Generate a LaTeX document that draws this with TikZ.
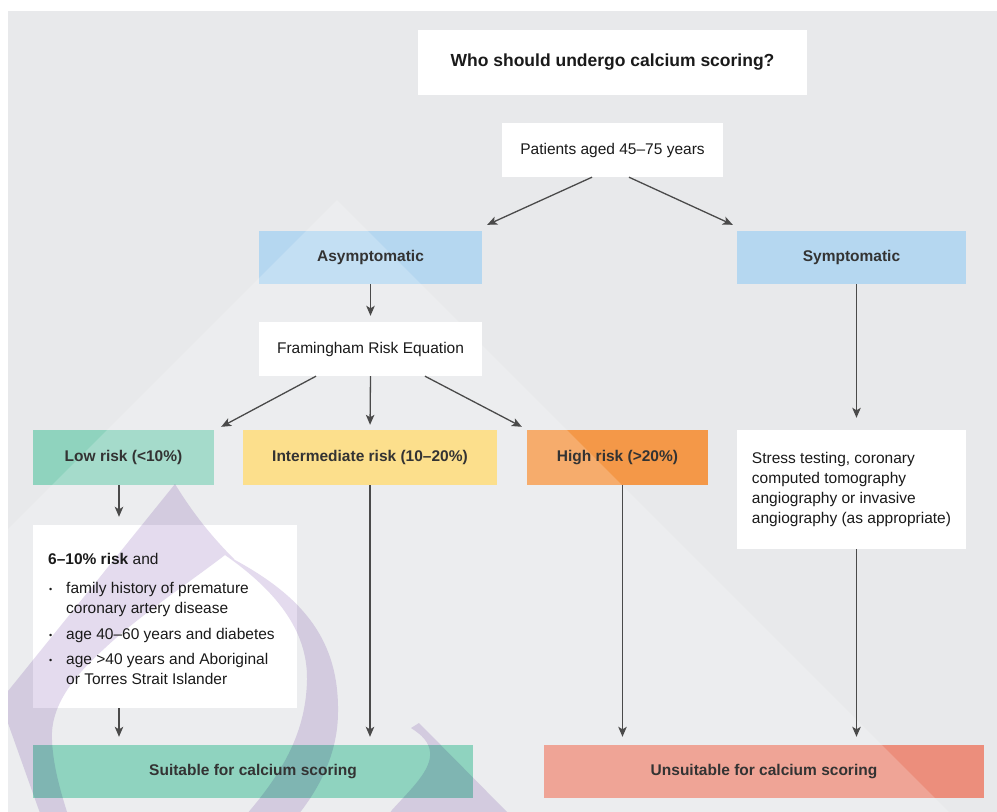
\documentclass[tikz,border=0pt]{standalone}
\usepackage{fontspec}
\setmainfont{Liberation Sans}
\usetikzlibrary{arrows.meta,calc}

\definecolor{bggray}{HTML}{E8E9EB}
\definecolor{skyblue}{HTML}{B5D7F0}
\definecolor{mintlow}{HTML}{8FD3BE}
\definecolor{mintok}{HTML}{73C9B0}
\definecolor{sandyellow}{HTML}{FCD870}
\definecolor{riskorange}{HTML}{F49848}
\definecolor{salmon}{HTML}{EC8E7C}
\definecolor{inkgray}{HTML}{333333}
\definecolor{titleink}{HTML}{1A1A1A}
\definecolor{linegray}{HTML}{4A4A4A}
\definecolor{markpurple}{HTML}{E4DBEE}

\pgfdeclarelayer{back}
\pgfdeclarelayer{mark}
\pgfsetlayers{back,mark,main}

\tikzset{
  box/.style={rectangle, inner sep=0pt, text=inkgray},
  lbl/.style={box, font=\fontsize{15.5}{18}\selectfont\bfseries},
  body/.style={box, text=titleink, font=\fontsize{15.5}{20}\selectfont},
  arr/.style={draw=linegray, line width=1.3pt,
    -{Stealth[length=10pt,width=8.5pt,inset=2.5pt]}},
}

\begin{document}
\begin{tikzpicture}[x=1pt,y=-1pt]
\useasboundingbox (0,0) rectangle (997,812);

% ---- boxes (text only; fills go on the back layer) ----
\node[box, text=titleink, font=\fontsize{17.5}{20}\selectfont\bfseries,
      minimum width=389pt, minimum height=65pt] (title) at (612.5,62.5)
      {Who should undergo calcium scoring?};
\node[body, minimum width=221pt, minimum height=54pt] (patients) at (612.5,150)
      {Patients aged 45–75 years};
\node[lbl, minimum width=223pt, minimum height=53pt] (asym) at (370.5,257.5) {Asymptomatic};
\node[lbl, minimum width=229pt, minimum height=53pt] (sym) at (851.5,257.5) {Symptomatic};
\node[body, minimum width=223pt, minimum height=54pt] (fram) at (370.5,349)
      {Framingham Risk Equation};
\node[lbl, minimum width=181pt, minimum height=55pt] (low) at (123.5,457.5) {Low risk (<10\%)};
\node[lbl, minimum width=254pt, minimum height=55pt] (inter) at (370,457.5)
      {Intermediate risk (10–20\%)};
\node[lbl, minimum width=181pt, minimum height=55pt] (high) at (617.5,457.5) {High risk (>20\%)};
\node[body, align=left, minimum width=229pt, minimum height=119pt] (stress) at (851.5,489.5)
      {Stress testing, coronary\\computed tomography\\angiography or invasive\\angiography (as appropriate)};
\node[box, minimum width=264pt, minimum height=183pt] (crit) at (165,616.5) {};
\node[body, anchor=north west] (critlist) at (48,550)
  {\renewcommand{\arraystretch}{1}%
   \begin{tabular}[t]{@{}l@{}l@{}}
   \multicolumn{2}{@{}l@{}}{\textbf{6–10\% risk} and}\\[9.5pt]
   \makebox[18pt][l]{\hspace{1pt}\raisebox{1pt}{\fontsize{9}{9}\selectfont •}} & family history of premature\\
   & coronary artery disease\\[5.5pt]
   \makebox[18pt][l]{\hspace{1pt}\raisebox{1pt}{\fontsize{9}{9}\selectfont •}} & age 40–60 years and diabetes\\[5.5pt]
   \makebox[18pt][l]{\hspace{1pt}\raisebox{1pt}{\fontsize{9}{9}\selectfont •}} & age >40 years and Aboriginal\\
   & or Torres Strait Islander
   \end{tabular}};
\node[lbl, minimum width=440pt, minimum height=53pt] (suit) at (253,771.5)
      {Suitable for calcium scoring};
\node[lbl, minimum width=440pt, minimum height=53pt] (unsuit) at (764,771.5)
      {Unsuitable for calcium scoring};

% ---- panel and box fills ----
\begin{pgfonlayer}{back}
  \fill[white] (0,0) rectangle (997,812);
  \fill[bggray] (8,11) rectangle (997,812);
  \foreach \n/\c in {title/white, patients/white, asym/skyblue, sym/skyblue,
                     fram/white, low/mintlow, inter/sandyellow, high/riskorange,
                     stress/white, crit/white, suit/mintok, unsuit/salmon}
    \fill[\c] (\n.north west) rectangle (\n.south east);
\end{pgfonlayer}

% ---- faint logo mark ----
\begin{pgfonlayer}{mark}
  \begin{scope}
    \clip (8,11) rectangle (997,812);
    \fill[white, fill opacity=0.2] (337,200) -- (-400,937) -- (1074,937) -- cycle;
    \begin{scope}[blend mode=multiply]
      % drop-shaped ring
      \fill[markpurple, even odd rule]
        (175,484) .. controls (188,505) and (205,530) .. (235,560)
        .. controls (305,598) and (339,642) .. (338,712)
        .. controls (338,750) and (322,785) .. (298,815)
        -- (292,830) -- (46,830) -- (4,712)
        .. controls (1,705) and (1,700) .. (4,696) -- cycle
        (225,555) .. controls (190,582) and (140,615) .. (105,648)
        .. controls (75,675) and (50,705) .. (52,740)
        .. controls (53,765) and (60,790) .. (68,815)
        -- (70,830) -- (240,830) -- (246,815)
        .. controls (285,770) and (306,730) .. (307,680)
        .. controls (308,630) and (275,590) .. (225,555) -- cycle;
      % second stroke at the lower edge
      \fill[markpurple]
        (411,728) -- (419,723) -- (510,815) -- (510,830) -- (378,830) -- (392,810)
        .. controls (410,790) and (432,770) .. (430,752)
        .. controls (429,742) and (422,735) .. (411,728) -- cycle;
    \end{scope}
  \end{scope}
\end{pgfonlayer}

% ---- connectors ----
\draw[arr] ([xshift=-20.5pt]patients.south) -- ([xshift=5pt,yshift=6pt]asym.north east);
\draw[arr] ([xshift=16.5pt]patients.south) -- ([xshift=-4pt,yshift=6pt]sym.north west);
\draw[arr, shorten >=6pt] (asym.south) -- (fram.north);
\draw[arr] ([xshift=-54.5pt]fram.south) -- ([xshift=7pt,yshift=3pt]low.north east);
\draw[arr, shorten >=5pt] (fram.south) -- (inter.north);
\draw[arr] ([xshift=54.5pt]fram.south) -- ([xshift=-5pt,yshift=3pt]high.north west);
\draw[arr, shorten >=12pt] ([xshift=5pt]sym.south) -- ([xshift=5pt]stress.north);
\draw[arr, shorten >=8pt] ($(low.south)+(-4.5,0)$) -- ($(low.south |- crit.north)+(-4.5,0)$);
\draw[arr, shorten >=8pt] ($(crit.south)+(-46,0)$) -- ($(crit.south |- suit.north)+(-46,0)$);
\draw[arr, shorten >=8pt] (inter.south) -- (inter.south |- suit.north);
\draw[arr, shorten >=8pt] ($(high.south)+(5,0)$) -- ($(high.south |- unsuit.north)+(5,0)$);
\draw[arr, shorten >=8pt] ([xshift=5pt]stress.south) -- ([xshift=5pt]stress.south |- unsuit.north);
\end{tikzpicture}
\end{document}
